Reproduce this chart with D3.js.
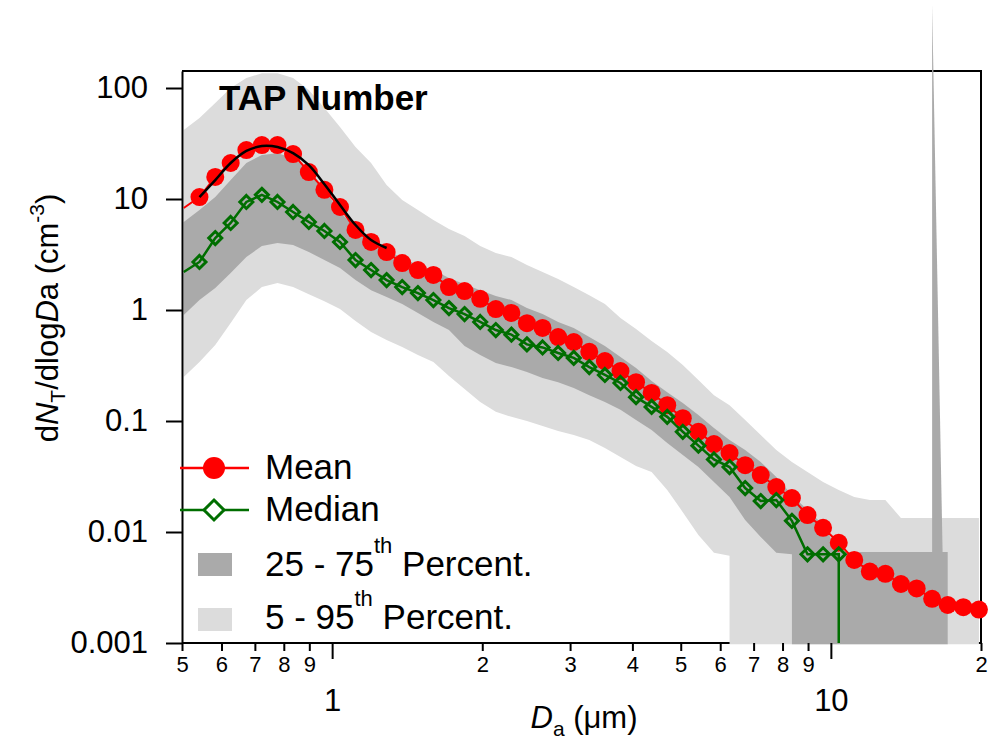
<!DOCTYPE html>
<html>
<head>
<meta charset="utf-8">
<script src="https://cdn.jsdelivr.net/npm/d3@7"></script>
<style>
  body { margin: 0; background: #fff; }
  svg text { font-family: "Liberation Sans", Arial, sans-serif; fill: #000; }
</style>
</head>
<body>
<div id="chart"></div>
<script>
// APS channel midpoints (um), the first one is the open lowest channel
var diameters = [0.504, 0.542, 0.583, 0.626, 0.673, 0.723, 0.777, 0.835, 0.898, 0.965,
    1.037, 1.114, 1.197, 1.286, 1.382, 1.486, 1.596, 1.715, 1.843, 1.981,
    2.129, 2.288, 2.458, 2.642, 2.839, 3.051, 3.278, 3.523, 3.786, 4.068,
    4.371, 4.698, 5.048, 5.425, 5.829, 6.264, 6.732, 7.234, 7.774, 8.354,
    8.977, 9.647, 10.37, 11.14, 11.97, 12.86, 13.82, 14.86, 15.96, 17.15,
    18.43, 19.81];

var meanValues = [8.3, 10.4, 15.8, 21.1, 27.6, 30.6, 30.6, 25.4, 17.5, 12.1, 8.47,
    5.26, 4.10, 3.33, 2.65, 2.29, 2.07, 1.61, 1.48, 1.26, 1.02,
    0.94, 0.76, 0.69, 0.57, 0.515, 0.42, 0.347, 0.282, 0.224, 0.179,
    0.139, 0.106, 0.080, 0.062, 0.0515, 0.040, 0.0326, 0.0254, 0.0202, 0.0142,
    0.0109, 0.0080, 0.0056, 0.0044, 0.0042, 0.0034, 0.0031, 0.0025, 0.0022, 0.0021,
    0.0020];

var medianValues = [2.2, 2.71, 4.45, 6.08, 9.40, 10.9, 9.40, 7.64, 6.21, 5.15, 4.10,
    2.82, 2.29, 1.86, 1.61, 1.42, 1.23, 1.04, 0.92, 0.78, 0.66,
    0.60, 0.49, 0.46, 0.41, 0.37, 0.306, 0.26, 0.22, 0.164, 0.134,
    0.109, 0.080, 0.060, 0.045, 0.0385, 0.0249, 0.019, 0.0194, 0.0126, 0.0063,
    0.0063, 0.0063, 0, 0, 0, 0, 0, 0, 0, 0,
    0];

var p5Values = [0.249, 0.340, 0.484, 0.764, 1.23, 1.61, 1.75, 1.61, 1.39, 1.20, 1.02,
    0.796, 0.634, 0.537, 0.464, 0.393, 0.340, 0.254, 0.194, 0.148, 0.121,
    0.109, 0.100, 0.0902, 0.0813, 0.0748, 0.0674, 0.0571, 0.0474, 0.0393, 0.0347,
    0.0239, 0.0151, 0.0094, 0.0065, 0.0061, 0, 0, 0, 0, 0,
    0, 0, 0, 0, 0, 0, 0, 0, 0, 0,
    0];

var p25Values = [0.902, 1.23, 1.58, 2.15, 3.00, 3.77, 4.01, 3.85, 3.33, 2.82, 2.39,
    1.86, 1.51, 1.31, 1.13, 0.940, 0.780, 0.661, 0.474, 0.393, 0.333,
    0.306, 0.276, 0.244, 0.224, 0.198, 0.171, 0.148, 0.126, 0.102, 0.0830,
    0.0634, 0.0494, 0.0385, 0.0282, 0.0207, 0.0128, 0.0090, 0.0065, 0.0063, 0,
    0, 0, 0, 0, 0, 0, 0, 0, 0, 0,
    0];

var p75Values = [6.21, 7.96, 10.4, 14.8, 21.1, 24.9, 25.9, 23.4, 18.2, 12.1, 7.64,
    5.48, 4.27, 3.47, 2.94, 2.54, 2.29, 1.94, 1.71, 1.51, 1.34,
    1.23, 1.04, 0.920, 0.780, 0.689, 0.571, 0.474, 0.377, 0.300, 0.229,
    0.182, 0.145, 0.113, 0.0865, 0.0674, 0.0548, 0.0427, 0.0313, 0.0215, 0.0158,
    0.0116, 0.0066, 0.0066, 0.0066, 0.0066, 0.0066, 0.0066, 0.0066, 0.0066, 0,
    0];

var p95Values = [41.9, 53.7, 73.3, 100, 123, 136, 136, 123, 95.9, 66.1, 44.5,
    29.4, 21.1, 13.4, 9.79, 7.96, 6.47, 5.37, 4.64, 3.77, 3.26,
    3.00, 2.54, 2.20, 1.90, 1.61, 1.36, 1.13, 0.847, 0.674, 0.526,
    0.419, 0.320, 0.234, 0.171, 0.139, 0.102, 0.0748, 0.0548, 0.0427, 0.0347,
    0.0282, 0.0239, 0.0207, 0.0194, 0.0194, 0.0134, 0.0134, 0.0134, 0.0134, 0.0134,
    0.0134];

// black fitted mode at the channels 0.542 - 1.286 um
var fitDiameters = diameters.slice(1, 14);
var fitValues = [10.4, 14.8, 21.1, 27.1, 30.0, 29.4, 25.9, 20.2, 13.6, 8.83, 5.83, 4.27, 3.62];

// lone 75th percentile spike near 16 um (runs past the frame)
var spikeDiameters = [15.96, 15.96, 16.75];
var spikeValues = [0.0066, 560, 0.0066];

var yTickValues = [0.001, 0.01, 0.1, 1, 10, 100];
var xMinorTicks = [0.5, 0.6, 0.7, 0.8, 0.9, 2, 3, 4, 5, 6, 7, 8, 9, 20];
var xMinorLabels = ["5", "6", "7", "8", "9", "2", "3", "4", "5", "6", "7", "8", "9", "2"];
var xMajorTicks = [1, 10];

// Setup
var svgWidth = 991;
var svgHeight = 741;
var margin = { top: 71, right: 10, bottom: 98, left: 182 };
var width = svgWidth - margin.left - margin.right;
var height = svgHeight - margin.top - margin.bottom;

var red = "#ff0000";
var green = "#006e00";
var lightGray = "#dcdcdc";
var darkGray = "#aaaaaa";

var svg = d3.select("#chart")
    .append("svg")
    .attr("width", svgWidth)
    .attr("height", svgHeight);

var chartGroup = svg.append("g")
    .attr("transform", `translate(${margin.left}, ${margin.top})`);

var xScale = d3.scaleLog().domain([0.5, 20]).range([0, width]);
var yScale = d3.scaleLog().domain([0.001, 142.3]).range([height, 0]);

svg.append("defs").append("clipPath")
    .attr("id", "plotClip")
    .append("rect")
    .attr("x", 0).attr("y", 0)
    .attr("width", width + 1.5).attr("height", height + 1.5);

// frame: top, right and bottom lines sit under the shaded bands
chartGroup.append("path")
    .attr("d", `M0,0H${width}V${height}H0`)
    .attr("fill", "none")
    .attr("stroke", "#000")
    .attr("stroke-width", 2);

// zero values fall below the log axis: edges drop straight to the floor
var floorY = height + 1.5;
function edgePoints(vals) {
    var pts = [];
    var n = vals.length;
    for (var i = 0; i < n; i++) {
        var x = xScale(diameters[i]);
        var v = vals[i];
        if (v > 0) {
            if (i > 0 && !(vals[i - 1] > 0)) pts.push([x, floorY]);
            pts.push([x, yScale(v)]);
        } else {
            if (i > 0 && vals[i - 1] > 0) pts.push([xScale(diameters[i - 1]), floorY]);
            else if (i === 0) pts.push([x, floorY]);
            if (i === n - 1) pts.push([x, floorY]);
        }
    }
    return pts;
}

function bandPath(lower, upper) {
    var pts = edgePoints(upper).concat(edgePoints(lower).reverse());
    return "M" + pts.map(p => p.join(",")).join("L") + "Z";
}

var bands = chartGroup.append("g").attr("clip-path", "url(#plotClip)");
bands.append("path")
    .attr("d", bandPath(p5Values, p95Values))
    .attr("fill", lightGray);
bands.append("path")
    .attr("d", bandPath(p25Values, p75Values))
    .attr("fill", darkGray);

chartGroup.append("path")
    .datum(spikeDiameters.map((d, i) => [d, spikeValues[i]]))
    .attr("d", d3.line().x(d => xScale(d[0])).y(d => yScale(d[1])))
    .attr("fill", darkGray);

// Axes
var leftAxis = d3.axisLeft(yScale)
    .tickValues(yTickValues)
    .tickFormat(d => String(d))
    .tickSize(16)
    .tickSizeOuter(0)
    .tickPadding(18);

var yAxisGroup = chartGroup.append("g").call(leftAxis);
yAxisGroup.select(".domain").attr("stroke-width", 2);
yAxisGroup.selectAll(".tick line").attr("stroke-width", 2);
yAxisGroup.selectAll("text")
    .style("font-size", "31px")
    .attr("font-family", null);

var minorAxis = d3.axisBottom(xScale)
    .tickValues(xMinorTicks)
    .tickFormat((d, i) => xMinorLabels[i])
    .tickSize(8)
    .tickSizeOuter(0)
    .tickPadding(5);

var minorGroup = chartGroup.append("g")
    .attr("transform", `translate(0, ${height})`)
    .call(minorAxis);
minorGroup.select(".domain").remove();
minorGroup.selectAll(".tick line").attr("stroke-width", 2);
minorGroup.selectAll("text").style("font-size", "22px").attr("font-family", null);

var majorAxis = d3.axisBottom(xScale)
    .tickValues(xMajorTicks)
    .tickFormat(d => String(d))
    .tickSize(16)
    .tickSizeOuter(0)
    .tickPadding(30);

var majorGroup = chartGroup.append("g")
    .attr("transform", `translate(0, ${height})`)
    .call(majorAxis);
majorGroup.select(".domain").remove();
majorGroup.selectAll(".tick line").attr("stroke-width", 2);
majorGroup.selectAll("text").style("font-size", "31px").attr("font-family", null);

// Lines
var lines = chartGroup.append("g").attr("clip-path", "url(#plotClip)");

var meanPts = meanValues.map((v, i) => [xScale(diameters[i]), yScale(v)]);
lines.append("path")
    .datum(meanPts)
    .attr("d", d3.line())
    .attr("fill", "none")
    .attr("stroke", red)
    .attr("stroke-width", 2);

var medianPts = [];
for (var i = 0; i < medianValues.length; i++) {
    if (medianValues[i] > 0) {
        medianPts.push([xScale(diameters[i]), yScale(medianValues[i])]);
    } else {
        medianPts.push([xScale(diameters[i - 1]), height]);
        break;
    }
}
lines.append("path")
    .datum(medianPts)
    .attr("d", d3.line())
    .attr("fill", "none")
    .attr("stroke", green)
    .attr("stroke-width", 2.5);

// Markers (the open lowest channel has none)
chartGroup.selectAll(".meanDot")
    .data(meanValues.slice(1))
    .enter()
    .append("circle")
    .attr("class", "meanDot")
    .attr("cx", (d, i) => xScale(diameters[i + 1]))
    .attr("cy", d => yScale(d))
    .attr("r", 9)
    .attr("fill", red);

function diamond(r) {
    return `M0,${-r}L${r},0L0,${r}L${-r},0Z`;
}

chartGroup.selectAll(".medianDot")
    .data(medianValues.slice(1).map((v, i) => [diameters[i + 1], v]).filter(d => d[1] > 0))
    .enter()
    .append("path")
    .attr("class", "medianDot")
    .attr("d", diamond(6.5))
    .attr("transform", d => `translate(${xScale(d[0])}, ${yScale(d[1])})`)
    .attr("fill", "none")
    .attr("stroke", green)
    .attr("stroke-width", 3);

chartGroup.append("path")
    .datum(fitDiameters.map((d, i) => [d, fitValues[i]]))
    .attr("d", d3.line().x(d => xScale(d[0])).y(d => yScale(d[1])).curve(d3.curveCatmullRom))
    .attr("fill", "none")
    .attr("stroke", "#000")
    .attr("stroke-width", 2.5);

// Title
svg.append("text")
    .attr("x", 219)
    .attr("y", 110)
    .style("font-size", "35px")
    .style("font-weight", "bold")
    .text("TAP Number");

// Axis titles
var yTitle = svg.append("text")
    .attr("transform", "translate(58, 318) rotate(-90)")
    .attr("text-anchor", "middle")
    .style("font-size", "31px");
yTitle.append("tspan").text("d");
yTitle.append("tspan").style("font-style", "italic").text("N");
yTitle.append("tspan").attr("dy", 7).style("font-size", "21px").text("T");
yTitle.append("tspan").attr("dy", -7).text("/dlog");
yTitle.append("tspan").style("font-style", "italic").text("D");
yTitle.append("tspan").text("a (cm");
yTitle.append("tspan").attr("dy", -14).style("font-size", "21px").text("-3");
yTitle.append("tspan").attr("dy", 14).text(")");

var xTitle = svg.append("text")
    .attr("x", 584)
    .attr("y", 728)
    .attr("text-anchor", "middle")
    .style("font-size", "31px");
xTitle.append("tspan").style("font-style", "italic").text("D");
xTitle.append("tspan").attr("dy", 8).style("font-size", "21px").text("a");
xTitle.append("tspan").attr("dy", -8).text(" (\u03bcm)");

// Legend
var legend = svg.append("g");
legend.append("line")
    .attr("x1", 180).attr("x2", 249).attr("y1", 468).attr("y2", 468)
    .attr("stroke", red).attr("stroke-width", 2.5);
legend.append("circle")
    .attr("cx", 214).attr("cy", 468).attr("r", 11)
    .attr("fill", red);
legend.append("line")
    .attr("x1", 180).attr("x2", 249).attr("y1", 510).attr("y2", 510)
    .attr("stroke", green).attr("stroke-width", 2.5);
legend.append("path")
    .attr("d", diamond(10))
    .attr("transform", "translate(214, 510)")
    .attr("fill", "#fff")
    .attr("stroke", green)
    .attr("stroke-width", 3);
legend.append("rect")
    .attr("x", 198).attr("y", 553).attr("width", 34).attr("height", 23)
    .attr("fill", darkGray);
legend.append("rect")
    .attr("x", 198).attr("y", 608).attr("width", 34).attr("height", 23)
    .attr("fill", lightGray);

legend.append("text").attr("x", 265).attr("y", 479)
    .style("font-size", "35px").text("Mean");
legend.append("text").attr("x", 265).attr("y", 521)
    .style("font-size", "35px").text("Median");

var pctLabels = [["25 - 75", 576], ["5 - 95", 629]];
pctLabels.forEach(function (p) {
    var t = legend.append("text").attr("x", 265).attr("y", p[1]).style("font-size", "35px");
    t.append("tspan").text(p[0]);
    t.append("tspan").attr("dy", -23).style("font-size", "22px").text("th");
    t.append("tspan").attr("dy", 23).text(" Percent.");
});
</script>
</body>
</html>
